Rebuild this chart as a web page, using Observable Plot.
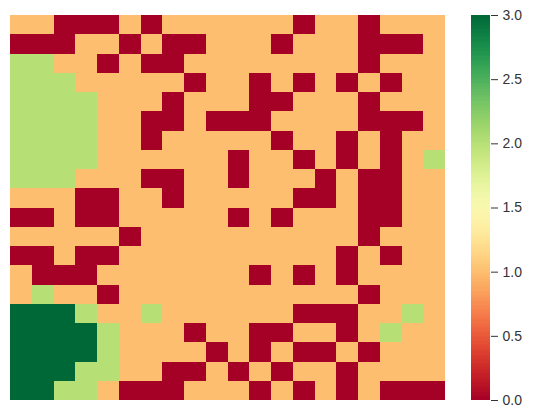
<!DOCTYPE html>
<html>
<head>
<meta charset="utf-8">
<script src="https://cdn.jsdelivr.net/npm/d3@7"></script>
<script src="https://cdn.jsdelivr.net/npm/@observablehq/plot@0.6"></script>
<style>
  html, body { margin: 0; padding: 0; background: #fff; }
  #wrap { position: relative; width: 534px; height: 418px; font-family: "Liberation Sans", Arial, sans-serif; }
  #wrap svg { position: absolute; top: 0; }
  #wrap svg rect { shape-rendering: crispEdges; }
</style>
</head>
<body>
<div id="wrap"></div>
<script>
// Cell values (rows top to bottom, columns left to right)
const grid = [
  [1,1,0,0,0,1,0,1,1,1,1,1,1,0,1,1,0,1,1,1],
  [0,0,0,1,1,0,1,0,0,1,1,1,0,1,1,1,0,0,0,1],
  [2,2,1,1,0,1,0,0,1,1,1,1,1,1,1,1,0,1,1,1],
  [2,2,2,1,1,1,1,1,0,1,1,0,1,0,1,0,1,0,1,1],
  [2,2,2,2,1,1,1,0,1,1,1,0,0,1,1,1,0,1,1,1],
  [2,2,2,2,1,1,0,0,1,0,0,0,1,1,1,1,0,0,0,1],
  [2,2,2,2,1,1,0,1,1,1,1,1,0,1,1,0,1,0,1,1],
  [2,2,2,2,1,1,1,1,1,1,0,1,1,0,1,0,1,0,1,2],
  [2,2,2,1,1,1,0,0,1,1,0,1,1,1,0,1,0,0,1,1],
  [1,1,1,0,0,1,1,0,1,1,1,1,1,0,0,1,0,0,1,1],
  [0,0,1,0,0,1,1,1,1,1,0,1,0,1,1,1,0,0,1,1],
  [1,1,1,1,1,0,1,1,1,1,1,1,1,1,1,1,0,1,1,1],
  [0,0,1,0,0,1,1,1,1,1,1,1,1,1,1,0,1,0,1,1],
  [1,0,0,0,1,1,1,1,1,1,1,0,1,0,1,0,1,1,1,1],
  [1,2,1,1,0,1,1,1,1,1,1,1,1,1,1,1,0,1,1,1],
  [3,3,3,2,1,1,2,1,1,1,1,1,1,0,0,0,1,1,2,1],
  [3,3,3,3,2,1,1,1,0,1,1,0,0,1,1,0,1,2,1,1],
  [3,3,3,3,2,1,1,1,1,0,1,0,1,0,0,1,0,1,1,1],
  [3,3,3,2,2,1,1,0,0,1,0,1,0,1,1,0,1,1,1,1],
  [3,3,2,2,1,0,0,0,1,1,1,0,1,0,1,0,1,0,0,0]
];
const rowIdx = d3.range(grid.length);
const colIdx = d3.range(grid[0].length);
const colorDomain = [0, 3];
const colorTicks = [0, 0.5, 1, 1.5, 2, 2.5, 3];

const cells = [];
rowIdx.forEach(r => colIdx.forEach(c => cells.push({row: r, col: c, v: grid[r][c]})));

const main = Plot.plot({
  width: 534,
  height: 418,
  marginLeft: 10,
  marginRight: 89,
  marginTop: 15,
  marginBottom: 18,
  x: {domain: colIdx, axis: null, padding: 0, round: false},
  y: {domain: rowIdx, axis: null, padding: 0, round: false},
  color: {type: "linear", scheme: "RdYlGn", domain: colorDomain},
  marks: [
    Plot.cell(cells, {x: "col", y: "row", fill: "v", inset: 0})
  ]
});
main.style.left = "0px";
document.getElementById("wrap").appendChild(main);

// Colorbar
const nSteps = 150;
const step = (colorDomain[1] - colorDomain[0]) / nSteps;
const ramp = d3.range(nSteps).map(i => colorDomain[0] + i * step);
const bar = Plot.plot({
  width: 63,
  height: 418,
  marginLeft: 0,
  marginRight: 44,
  marginTop: 15,
  marginBottom: 18,
  style: {fontSize: "14px", fontFamily: "'Liberation Sans', Arial, sans-serif", color: "#333", background: "transparent"},
  y: {domain: colorDomain, ticks: colorTicks, tickFormat: d3.format(".1f"), axis: "right", label: null, tickSize: 7, tickPadding: 5},
  color: {type: "linear", scheme: "RdYlGn", domain: colorDomain},
  marks: [
    Plot.rect(ramp, {y1: d => d, y2: d => d + step, fill: d => d + step / 2}),
  ]
});
bar.style.left = "471px";
document.getElementById("wrap").appendChild(bar);
</script>
</body>
</html>
